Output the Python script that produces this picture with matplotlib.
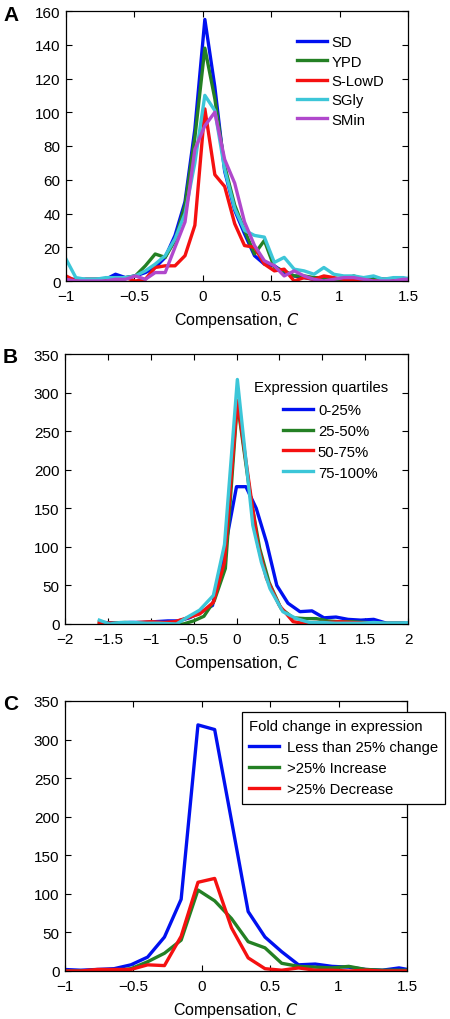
import matplotlib
matplotlib.use("Agg")
import matplotlib.pyplot as plt

plt.rcParams['font.family'] = ['Liberation Sans', 'DejaVu Sans']

# ---------------- Panel A data ----------------
a_x = [-1.0, -0.928, -0.855, -0.783, -0.71, -0.638, -0.565, -0.493, -0.42, -0.348,
       -0.275, -0.203, -0.13, -0.058, 0.015, 0.088, 0.16, 0.233, 0.305, 0.378,
       0.45, 0.523, 0.595, 0.668, 0.74, 0.813, 0.885, 0.958, 1.03, 1.103,
       1.175, 1.248, 1.32, 1.393, 1.465, 1.538]
a_sd = [1, 1, 1, 1, 1, 4, 2, 3, 5, 8, 14, 27, 47, 90, 155, 115, 65, 42, 28, 15,
        10, 9, 5, 3, 2, 1, 1, 1, 1, 1, 1, 2, 1, 1, 1, 1]
a_ypd = [1, 0, 1, 1, 1, 2, 2, 3, 9, 16, 14, 24, 45, 85, 138, 108, 68, 45, 30, 16,
         24, 8, 6, 3, 3, 2, 2, 0, 0, 3, 1, 1, 1, 1, 1, 1]
a_lowd = [3, 0, 0, 0, 0, 1, 2, 0, 1, 8, 9, 9, 15, 33, 102, 63, 56, 34, 21, 20,
          10, 6, 7, 0, 2, 1, 3, 2, 1, 1, 1, 0, 0, 0, 0, 0]
a_sgly = [13, 2, 1, 1, 2, 2, 2, 3, 6, 10, 15, 25, 40, 70, 110, 101, 66, 43, 30, 27,
          26, 11, 14, 7, 6, 4, 8, 4, 3, 3, 2, 3, 1, 2, 2, 1]
a_smin = [1, 0, 0, 0, 0, 1, 1, 3, 1, 5, 5, 20, 35, 78, 92, 100, 72, 58, 35, 21,
          12, 9, 3, 6, 3, 1, 0, 1, 2, 2, 1, 0, 0, 0, 1, 1]
a_labels = ['SD', 'YPD', 'S-LowD', 'SGly', 'SMin']

# ---------------- Panel B data ----------------
b1_x = [-1.55, -1.4, -1.25, -1.1, -0.95, -0.8, -0.68, -0.55, -0.42, -0.28, -0.14,
        0.0, 0.11, 0.23, 0.35, 0.47, 0.6, 0.74, 0.88, 1.02, 1.16, 1.3, 1.45, 1.6,
        1.75, 1.9, 2.05]
b1_y = [2, 1, 2, 2, 3, 4, 4, 8, 15, 24, 95, 178, 178, 150, 106, 50, 27, 16, 17, 8,
        9, 6, 5, 6, 1, 1, 1]
b2_x = [-1.6, -1.45, -1.3, -1.15, -1.0, -0.87, -0.74, -0.62, -0.5, -0.38, -0.26,
        -0.13, 0.01, 0.16, 0.27, 0.38, 0.52, 0.66, 0.8, 0.93, 1.07, 1.2, 1.35, 1.5,
        1.65, 1.8, 1.95]
b2_y = [1, 1, 2, 1, 1, 1, 0, 0, 4, 10, 30, 72, 287, 167, 98, 54, 20, 8, 7, 7, 4, 3,
        3, 2, 1, 1, 1]
b3_x = [-1.6, -1.45, -1.3, -1.15, -1.0, -0.85, -0.72, -0.6, -0.43, -0.27, -0.14,
        0.01, 0.15, 0.25, 0.35, 0.5, 0.66, 0.78, 0.92, 1.06, 1.2, 1.35, 1.5, 1.65,
        1.8, 1.95]
b3_y = [2, 1, 0, 2, 3, 2, 3, 7, 13, 28, 80, 290, 180, 102, 59, 24, 3, 1, 2, 2, 3, 2,
        1, 1, 0, 0]
b4_x = [-1.6, -1.48, -1.35, -1.2, -1.05, -0.9, -0.7, -0.57, -0.43, -0.27, -0.14,
        0.01, 0.19, 0.29, 0.39, 0.54, 0.7, 0.85, 1.0, 1.15, 1.3, 1.45, 1.6, 1.75,
        1.9, 2.05]
b4_y = [5, 0, 2, 2, 1, 1, 0, 9, 18, 37, 103, 317, 128, 80, 46, 16, 7, 2, 2, 1, 1, 1,
        2, 1, 1, 2]
b_labels = ['0-25%', '25-50%', '50-75%', '75-100%']
b_title = 'Expression quartiles'

# ---------------- Panel C data ----------------
c_x = [-1.008, -0.886, -0.763, -0.641, -0.518, -0.396, -0.273, -0.151, -0.028,
       0.094, 0.217, 0.339, 0.462, 0.584, 0.707, 0.829, 0.952, 1.074, 1.197,
       1.319, 1.442, 1.564]
c_less = [2, 1, 2, 3, 8, 18, 44, 93, 319, 313, 195, 77, 44, 25, 8, 9, 6, 5, 2, 1, 4, 0]
c_inc = [0, 0, 1, 0, 3, 12, 23, 40, 105, 91, 68, 38, 30, 10, 6, 5, 4, 6, 2, 1, 1, 1]
c_dec = [0, 0, 2, 2, 2, 8, 7, 45, 115, 120, 56, 17, 3, 1, 4, 1, 1, 0, 1, 0, 0, 0]
c_labels = ['Less than 25% change', '>25% Increase', '>25% Decrease']
c_title = 'Fold change in expression'

BLUE = '#0010f0'
GREEN = '#248024'
RED = '#f51010'
CYAN = '#3cc6d8'
PURPLE = '#b048cc'
LW = 2.4
LFS = 10.7

W, H = 450, 1020
fig = plt.figure(figsize=(W / 100, H / 100), dpi=100)


def box(l, t, r, b):
    return [l / W, 1 - b / H, (r - l) / W, (b - t) / H]


def style(ax, xlim, ylim, xticks, xticklabels, yticks):
    ax.set_xlim(*xlim)
    ax.set_ylim(*ylim)
    ax.set_xticks(xticks)
    ax.set_xticklabels(xticklabels)
    ax.set_yticks(yticks)
    ax.set_yticklabels([str(v) for v in yticks])
    ax.tick_params(direction='in', top=True, right=True, length=4, width=0.8,
                   labelsize=11)
    ax.tick_params(axis='x', pad=6)
    ax.tick_params(axis='y', pad=4)
    for s in ax.spines.values():
        s.set_linewidth(0.9)
    ax.set_xlabel('Compensation, $\\mathit{C}$', fontsize=11.5, labelpad=4.5)


# Panel A
axA = fig.add_axes(box(66, 12, 408, 282))
for y, c in zip([a_sd, a_ypd, a_lowd, a_sgly, a_smin], [BLUE, GREEN, RED, CYAN, PURPLE]):
    axA.plot(a_x, y, color=c, lw=LW)
style(axA, (-1, 1.5), (0, 160), [-1, -0.5, 0, 0.5, 1, 1.5],
      ['\u22121', '\u22120.5', '0', '0.5', '1', '1.5'], list(range(0, 161, 20)))
axA.legend(axA.lines, a_labels, frameon=False, loc='upper left',
           bbox_to_anchor=(0.675, 0.91), borderaxespad=0, borderpad=0,
           fontsize=LFS, handlelength=2.0, handletextpad=0.35, labelspacing=0.36)
fig.text(3 / W, 1 - 16 / H, 'A', fontsize=15, fontweight='bold', va='center', ha='left')

# Panel B
axB = fig.add_axes(box(65, 355, 408, 625))
for x, y, c in zip([b1_x, b2_x, b3_x, b4_x], [b1_y, b2_y, b3_y, b4_y], [BLUE, GREEN, RED, CYAN]):
    axB.plot(x, y, color=c, lw=LW)
style(axB, (-2, 2), (0, 350), [-2, -1.5, -1, -0.5, 0, 0.5, 1, 1.5, 2],
      ['\u22122', '\u22121.5', '\u22121', '\u22120.5', '0', '0.5', '1', '1.5', '2'],
      list(range(0, 351, 50)))
axB.legend(axB.lines, b_labels, frameon=False, loc='upper left',
           bbox_to_anchor=(0.6356, 0.8185), borderaxespad=0, borderpad=0,
           fontsize=LFS, handlelength=2.0, handletextpad=0.35, labelspacing=0.46)
fig.text(321.5 / W, 1 - 388 / H, b_title, fontsize=LFS, ha='center', va='center')
fig.text(3 / W, 1 - 358 / H, 'B', fontsize=15, fontweight='bold', va='center', ha='left')

# Panel C
axC = fig.add_axes(box(65, 702, 407, 972))
for y, c in zip([c_less, c_inc, c_dec], [BLUE, GREEN, RED]):
    axC.plot(c_x, y, color=c, lw=LW)
style(axC, (-1, 1.5), (0, 350), [-1, -0.5, 0, 0.5, 1, 1.5],
      ['\u22121', '\u22120.5', '0', '0.5', '1', '1.5'], list(range(0, 351, 50)))
legC = axC.legend(axC.lines, c_labels, loc='upper left', alignment='left',
                  title=c_title, title_fontsize=LFS,
                  bbox_to_anchor=(242 / W, 1 - 713 / H), bbox_transform=fig.transFigure,
                  borderaxespad=0, borderpad=0.5, fancybox=False, framealpha=1,
                  edgecolor='black', fontsize=LFS, handlelength=2.0,
                  handletextpad=0.5, labelspacing=0.47)
legC.get_frame().set_linewidth(0.9)
fig.text(3 / W, 1 - 705 / H, 'C', fontsize=15, fontweight='bold', va='center', ha='left')

fig.savefig('out.png', dpi=100)
